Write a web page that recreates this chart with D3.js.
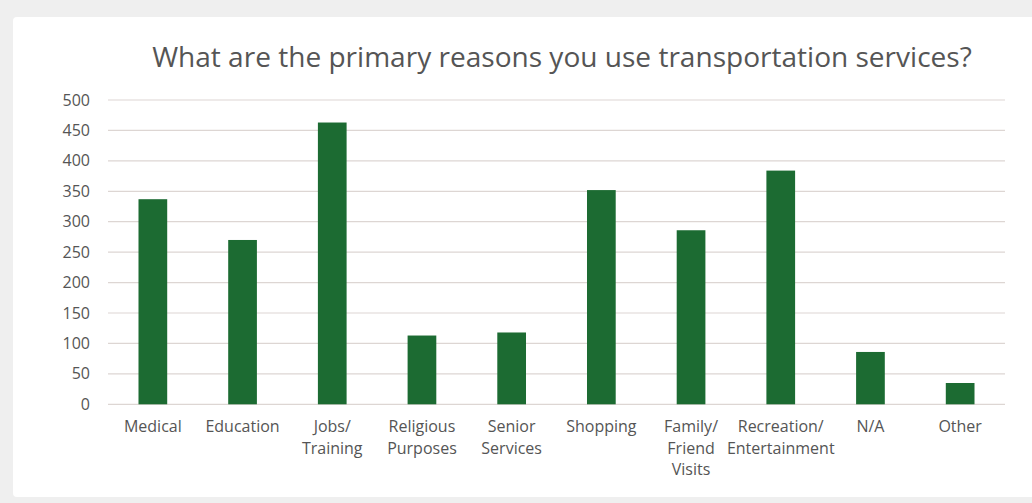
<!DOCTYPE html>
<html>
<head>
<meta charset="utf-8">
<script src="https://cdn.jsdelivr.net/npm/d3@7"></script>
<style>
  html, body { margin: 0; padding: 0; background: #efefef; }
  svg { display: block; }
</style>
</head>
<body>
<svg id="chart" width="1032" height="503"></svg>
<script>
// Survey responses: primary reasons for using transportation services
const categories = [
  "Medical", "Education", "Jobs/\nTraining", "Religious\nPurposes", "Senior\nServices",
  "Shopping", "Family/\nFriend\nVisits", "Recreation/\nEntertainment", "N/A", "Other"
];
const responses = [337, 270, 463, 113, 118, 352, 286, 384, 86, 35];
const yTicks = [0, 50, 100, 150, 200, 250, 300, 350, 400, 450, 500];
const titleText = "What are the primary reasons you use transportation services?";

const svg = d3.select("#chart");
const font = "'Open Sans', 'Noto Sans', sans-serif";
const textColor = "#555555";

// white card on the grey page
svg.append("rect")
  .attr("x", 13).attr("y", 17)
  .attr("width", 1032 - 13 + 10).attr("height", 497 - 17)
  .attr("rx", 4)
  .attr("fill", "#ffffff");

const plot = { left: 108, right: 1005, top: 100, bottom: 404.3 };

const x = d3.scaleBand()
  .domain(categories)
  .range([plot.left, plot.right])
  .paddingInner(0.68)
  .paddingOuter(0.34);

const y = d3.scaleLinear()
  .domain([0, 500])
  .range([plot.bottom, plot.top]);

// title, fitted to its width
const title = svg.append("text")
  .attr("x", 562).attr("y", 67)
  .attr("text-anchor", "middle")
  .attr("font-family", font)
  .attr("font-size", 26)
  .attr("fill", textColor)
  .text(titleText);
const tw = title.node().getComputedTextLength();
title.attr("font-size", 26 * 820 / tw);

// horizontal gridlines
svg.append("g")
  .selectAll("line")
  .data(yTicks)
  .join("line")
  .attr("x1", plot.left).attr("x2", plot.right)
  .attr("y1", d => y(d)).attr("y2", d => y(d))
  .attr("stroke", "#ddd6d3")
  .attr("stroke-width", 1.2);

// y axis labels
const yAxis = d3.axisLeft(y).tickValues(yTicks).tickSize(0).tickPadding(0);
const yg = svg.append("g")
  .attr("transform", `translate(${plot.left - 18},0)`)
  .call(yAxis);
yg.select(".domain").remove();
yg.selectAll("text")
  .attr("font-family", font)
  .attr("font-size", 16)
  .attr("fill", textColor);

// bars
svg.append("g")
  .selectAll("rect")
  .data(responses)
  .join("rect")
  .attr("x", (d, i) => x(categories[i]))
  .attr("y", d => y(d))
  .attr("width", x.bandwidth())
  .attr("height", d => y(0) - y(d))
  .attr("fill", "#1c6b32");

// category labels, split over multiple lines
const xg = svg.append("g");
categories.forEach(c => {
  const lines = c.split("\n");
  const t = xg.append("text")
    .attr("text-anchor", "middle")
    .attr("font-family", font)
    .attr("font-size", 16)
    .attr("fill", textColor);
  lines.forEach((ln, j) => {
    t.append("tspan")
      .attr("x", x(c) + x.bandwidth() / 2)
      .attr("y", 432 + j * 21.5)
      .text(ln);
  });
});
</script>
</body>
</html>
